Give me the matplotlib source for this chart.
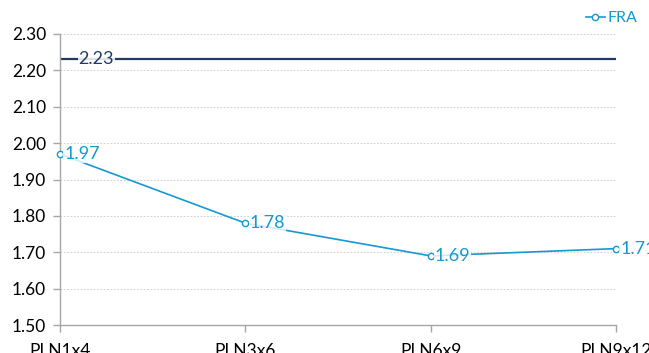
import matplotlib.pyplot as plt
from matplotlib.lines import Line2D

categories = ['PLN1x4', 'PLN3x6', 'PLN6x9', 'PLN9x12']
fra_values = [1.97, 1.78, 1.69, 1.71]
reference_value = 2.23
y_ticks = [1.50, 1.60, 1.70, 1.80, 1.90, 2.00, 2.10, 2.20, 2.30]

fra_color = '#1499D0'
ref_color = '#1F3B64'

plt.rcParams['font.family'] = ['Lato', 'DejaVu Sans']

fig = plt.figure(figsize=(6.49, 3.53), dpi=100)
ax = fig.add_axes([60 / 649, 1 - 325 / 353, 556 / 649, 291 / 353])

x = list(range(len(categories)))

# reference level
ax.axhline(reference_value, color=ref_color, linewidth=1.6, zorder=2)
ax.text(0.1, reference_value, f'{reference_value:.2f}', color=ref_color, fontsize=13,
        va='center', ha='left', zorder=4,
        bbox=dict(boxstyle='square,pad=0.05', facecolor='white', edgecolor='none', alpha=0.85))

# FRA series
ax.plot(x, fra_values, color=fra_color, linewidth=1.2, marker='o', markersize=4.5,
        markerfacecolor='white', markeredgecolor=fra_color, markeredgewidth=1.0,
        zorder=3, clip_on=False)
for xi, v in zip(x, fra_values):
    ax.annotate(f'{v:.2f}', (xi, v), xytext=(3, 0), textcoords='offset points',
                color=fra_color, fontsize=13, va='center', ha='left', zorder=4,
                annotation_clip=False,
                bbox=dict(boxstyle='square,pad=0.05', facecolor='white', edgecolor='none', alpha=0.8))

ax.set_xlim(0, 3)
ax.set_ylim(1.5, 2.3)
ax.set_yticks(y_ticks)
ax.set_yticklabels([f'{t:.2f}' for t in y_ticks])
ax.set_xticks(x)
ax.set_xticklabels(categories)

ax.grid(axis='y', color='#C8C8C8', linestyle=(0, (2, 2)), linewidth=0.6)
ax.set_axisbelow(True)
for side in ['top', 'right']:
    ax.spines[side].set_visible(False)
for side in ['left', 'bottom']:
    ax.spines[side].set_color('#A6A6A6')
    ax.spines[side].set_linewidth(1.0)
ax.tick_params(axis='both', colors='#A6A6A6', labelcolor='#000000', labelsize=12.5,
               direction='out', length=5, width=1.0)
ax.tick_params(axis='x', pad=8)
ax.tick_params(axis='y', pad=5)

handle = Line2D([], [], color=fra_color, linewidth=1.2, marker='o', markersize=4.5,
                markerfacecolor='white', markeredgecolor=fra_color)
fig.legend([handle], ['FRA'], loc='upper right', bbox_to_anchor=(1.0, 1.0),
           frameon=False, fontsize=11.5, handlelength=1.2, handletextpad=0.2,
           labelcolor=fra_color, borderaxespad=0.3)

fig.savefig('out.png', dpi=100)
